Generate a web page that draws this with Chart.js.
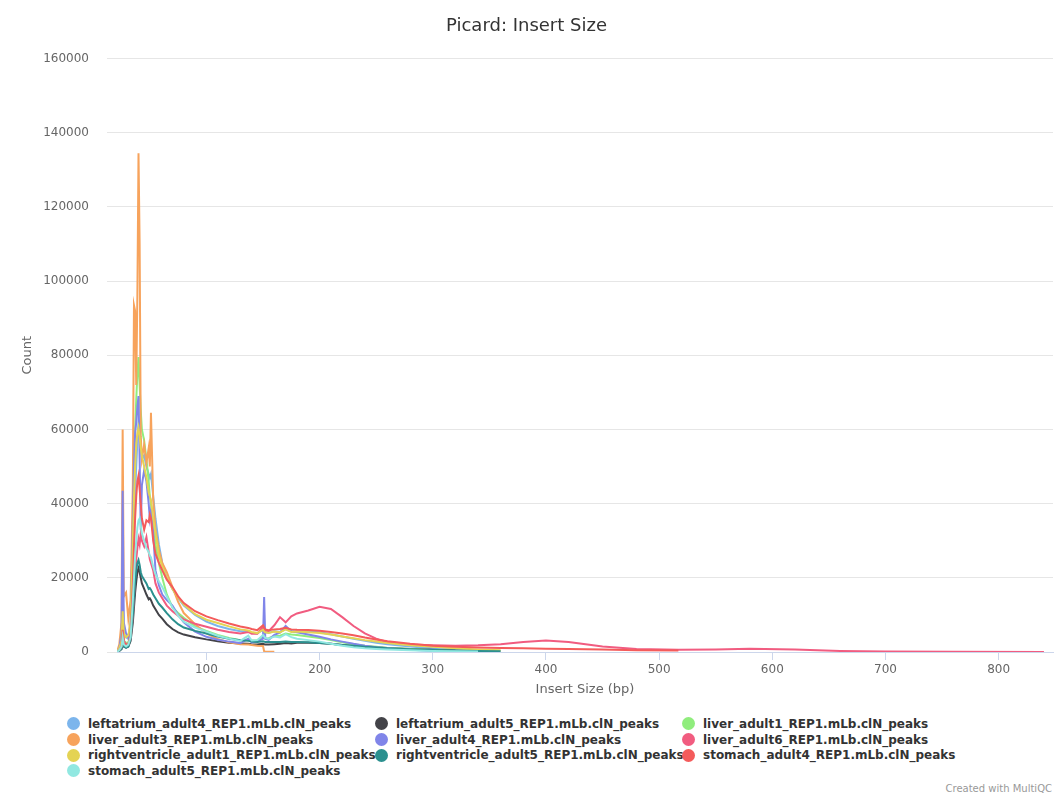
<!DOCTYPE html>
<html>
<head>
<meta charset="utf-8">
<title>Picard: Insert Size</title>
<script src="https://cdn.jsdelivr.net/npm/chart.js@4.4.0/dist/chart.umd.min.js"></script>
<style>
    body { margin: 0; background: #fff; font-family: "DejaVu Sans", sans-serif; }
    #wrap { position: relative; width: 1057px; height: 796px; overflow: hidden; }
    #insertSizeChart { position: absolute; left: 0; top: 0; }
    #legend {
        position: absolute; left: 67px; top: 716px;
        display: grid; grid-template-columns: 308px 307px auto;
    }
    .item { display: flex; align-items: center; height: 15.7px; font: bold 12px "DejaVu Sans", sans-serif; color: #333; white-space: nowrap; }
    .dot { width: 13px; height: 13px; border-radius: 50%; margin-right: 8px; flex: none; }
    #credit { position: absolute; right: 5px; top: 783px; font: 10px "DejaVu Sans", sans-serif; color: #999; }
</style>
</head>
<body>
<div id="wrap">
    <canvas id="insertSizeChart" width="1057" height="700"></canvas>
    <div id="legend"></div>
    <div id="credit">Created with MultiQC</div>
</div>
<script>
// Insert sizes (bp) shared by all samples; each sample stops where its array ends
const insertSize = [21, 23, 25, 26, 27, 29, 31, 33, 35, 36, 37, 38, 39, 40, 41, 42, 43, 45, 47, 49,
    50, 51, 53, 55, 58, 61, 65, 70, 75, 80, 90, 100, 110, 120, 130, 137, 140, 145, 150, 151,
    152, 155, 160, 165, 170, 175, 180, 190, 200, 210, 220, 230, 240, 250, 260, 280, 300, 320, 340, 360,
    380, 400, 420, 450, 480, 517, 550, 580, 620, 660, 700, 760, 840];

const leftatrium4 = [0, 800, 3000, 17000, 5000, 4000, 3500, 6000, 22000, 33000, 42000, 50000, 57000, 62000, 60000, 56000, 52000, 53000, 50000, 48000,
    47000, 48000, 42000, 36000, 29000, 24000, 20000, 17000, 14500, 12500, 10000, 8200, 7000, 6200, 5600, 5600, 5200, 5000, 6000, 5600,
    5300, 5200, 5600, 5400, 6200, 5600, 5500, 5500, 5300, 4800, 4200, 3600, 3000, 2500, 2100, 1500, 1000, 700];
const leftatrium5 = [0, 300, 800, 2500, 1500, 1200, 1500, 3000, 8000, 12000, 16000, 19000, 21500, 22600, 21500, 20000, 18500, 17000, 15500, 14200,
    14500, 14000, 12500, 11500, 10000, 9000, 7500, 6200, 5300, 4700, 4000, 3400, 2900, 2500, 2300, 2200, 2100, 2000, 2200, 2100,
    2000, 2000, 2100, 2200, 2400, 2300, 2500, 2500, 2400, 2200, 1900, 1700, 1500, 1300, 1100, 800, 600, 400, 300];
const liver1 = [0, 500, 1500, 8000, 3000, 2500, 2500, 5000, 25000, 45000, 60000, 68000, 75000, 79500, 72000, 65000, 60000, 57000, 52000, 46000,
    42000, 40000, 34000, 29000, 24000, 20000, 15500, 12000, 10500, 9200, 6900, 5700, 4600, 3800, 3200, 3400, 3100, 3200, 4000, 3800,
    3600, 3700, 4300, 4400, 5000, 4700, 4600, 4200, 3800, 3200, 2600, 2100, 1700, 1400, 1100, 800, 500, 300];
const liver3 = [0, 2000, 8000, 60000, 15000, 16000, 9000, 14000, 45000, 93500, 92000, 72000, 96000, 134500, 110000, 58000, 52000, 56000, 51000, 55000,
    50000, 64500, 41000, 33000, 27500, 24000, 21500, 17500, 13500, 10500, 7500, 5000, 3500, 2600, 2100, 2000, 1900, 1700, 1600, 200,
    80, 60, 40];
const liver4 = [0, 1000, 5000, 43500, 8000, 5000, 4000, 8000, 35000, 50000, 59000, 62000, 66000, 69000, 52000, 33000, 45000, 49000, 46000, 40000,
    36000, 38000, 32000, 22000, 18000, 15500, 14000, 12500, 10000, 8000, 5500, 4100, 3300, 2800, 2400, 3600, 2600, 2800, 3600, 14800,
    3600, 3300, 4600, 5200, 7000, 5600, 5300, 4700, 4100, 3400, 2800, 2200, 1700, 1300, 1000, 600, 350];
const liver6 = [0, 500, 1500, 7000, 3000, 2000, 2000, 3500, 10000, 15000, 20000, 25000, 28000, 30500, 29000, 32000, 30000, 28500, 31000, 27000,
    25000, 24000, 22000, 18500, 16000, 14500, 12500, 11000, 9800, 8800, 7600, 6800, 6000, 5400, 5000, 5400, 4900, 4900, 6800, 6200,
    5800, 5600, 7200, 9400, 8000, 9600, 10400, 11200, 12200, 11600, 9400, 7000, 5000, 3600, 2700, 2000, 1800, 1700, 1800, 2100,
    2700, 3100, 2700, 1500, 800, 600, 700, 850, 650, 300, 150, 60, 20];
const rightventricle1 = [0, 1000, 3000, 11000, 5000, 4000, 4500, 8000, 30000, 42000, 50000, 56000, 59000, 60500, 58000, 55000, 53000, 50000, 47000, 43000,
    42000, 41000, 36000, 32000, 26000, 23000, 20000, 17000, 14800, 12800, 10200, 8700, 7800, 6900, 6100, 5800, 5400, 5100, 6000, 5600,
    5300, 5100, 5500, 5300, 6100, 5400, 5500, 5300, 5100, 4700, 4200, 3700, 3200, 2800, 2400, 1800, 1400, 1000, 700, 500];
const rightventricle5 = [0, 300, 800, 2500, 1500, 1200, 1500, 3500, 10000, 15000, 19000, 22000, 24000, 24800, 23500, 21500, 20500, 19500, 18500, 17000,
    17200, 16800, 15500, 14500, 13000, 12000, 10500, 8800, 7500, 6600, 5700, 5000, 4200, 3600, 3200, 3000, 2800, 2700, 2900, 2800,
    2700, 2700, 2700, 2700, 2800, 2700, 2700, 2600, 2400, 2200, 1900, 1700, 1400, 1200, 1000, 750, 550, 400, 300, 200];
const stomach4 = [0, 500, 1500, 6000, 2500, 2000, 2200, 5000, 18000, 28000, 36000, 42000, 46000, 47500, 44000, 40000, 36000, 33000, 35500, 35000,
    37000, 36000, 30000, 26500, 24000, 22000, 19500, 17500, 15000, 13200, 11000, 9600, 8600, 7700, 6900, 6500, 6200, 5900, 7200, 6600,
    6100, 5900, 6100, 6200, 6500, 6100, 6000, 5900, 5700, 5400, 5000, 4500, 3900, 3400, 2900, 2200, 1700, 1400, 1200, 1100,
    1000, 900, 800, 650, 500, 400];
const stomach5 = [0, 500, 1500, 4000, 2000, 1500, 2000, 4000, 14000, 20000, 26000, 30000, 33500, 35500, 36000, 34000, 32000, 30000, 28000, 27000,
    26000, 25500, 23000, 21000, 19000, 17500, 15000, 12000, 9800, 8200, 6600, 5500, 4400, 3600, 3000, 4400, 3100, 3200, 4600, 4200,
    3800, 3500, 4200, 3900, 4800, 4000, 3600, 3200, 2800, 2200, 1700, 1300, 1000, 800, 650, 450, 300, 200, 150];

const seriesNames = [
    'leftatrium_adult4_REP1.mLb.clN_peaks', 'leftatrium_adult5_REP1.mLb.clN_peaks', 'liver_adult1_REP1.mLb.clN_peaks',
    'liver_adult3_REP1.mLb.clN_peaks', 'liver_adult4_REP1.mLb.clN_peaks', 'liver_adult6_REP1.mLb.clN_peaks',
    'rightventricle_adult1_REP1.mLb.clN_peaks', 'rightventricle_adult5_REP1.mLb.clN_peaks', 'stomach_adult4_REP1.mLb.clN_peaks',
    'stomach_adult5_REP1.mLb.clN_peaks'
];
const seriesCounts = [leftatrium4, leftatrium5, liver1, liver3, liver4, liver6, rightventricle1, rightventricle5, stomach4, stomach5];
const seriesColors = ['#7cb5ec', '#434348', '#90ed7d', '#f7a35c', '#8085e9', '#f15c80', '#e4d354', '#2b908f', '#f45b5b', '#91e8e1'];

const xTicks = [100, 200, 300, 400, 500, 600, 700, 800];
const yTicks = [0, 20000, 40000, 60000, 80000, 100000, 120000, 140000, 160000];

const FONT = '"DejaVu Sans", sans-serif';

const datasets = seriesNames.map((name, i) => ({
    label: name,
    data: seriesCounts[i].map((count, j) => ({ x: insertSize[j], y: count })),
    borderColor: seriesColors[i],
    backgroundColor: seriesColors[i],
    borderWidth: 2,
    pointRadius: 0,
    tension: 0,
    fill: false,
    // later samples are drawn on top, like the original
    order: seriesNames.length - i
}));

const chart = new Chart(document.getElementById('insertSizeChart').getContext('2d'), {
    type: 'line',
    data: { datasets: datasets },
    options: {
        responsive: false,
        animation: false,
        layout: { padding: { left: 0, right: 4, top: 0, bottom: 0 } },
        plugins: {
            legend: { display: false },
            title: {
                display: true,
                text: 'Picard: Insert Size',
                color: '#333',
                font: { family: FONT, size: 18, weight: 'normal' },
                padding: { top: 16, bottom: 21 }
            }
        },
        scales: {
            x: {
                type: 'linear',
                min: 21,
                max: 848,
                afterBuildTicks: scale => { scale.ticks = xTicks.map(v => ({ value: v })); },
                afterFit: scale => { scale.height = 48; },
                ticks: {
                    color: '#666',
                    font: { family: FONT, size: 12 },
                    padding: 3,
                    maxRotation: 0,
                    autoSkip: false,
                    callback: v => String(v)
                },
                grid: { drawOnChartArea: false, drawTicks: true, tickLength: 8, color: '#ccd6eb' },
                border: { color: '#ccd6eb', width: 1 },
                title: {
                    display: true,
                    text: 'Insert Size (bp)',
                    color: '#666',
                    font: { family: FONT, size: 13 },
                    padding: { top: 0, bottom: 3 }
                }
            },
            y: {
                min: 0,
                max: 160000,
                afterBuildTicks: scale => { scale.ticks = yTicks.map(v => ({ value: v })); },
                afterFit: scale => { scale.width = 117; },
                ticks: {
                    color: '#666',
                    font: { family: FONT, size: 12 },
                    padding: 18,
                    callback: v => String(v)
                },
                grid: { color: '#e6e6e6', tickLength: 10 },
                border: { display: false },
                title: {
                    display: true,
                    text: 'Count',
                    color: '#666',
                    font: { family: FONT, size: 13 },
                    padding: { top: 20, bottom: 0 }
                }
            }
        }
    }
});

// legend in three columns, like MultiQC
const legendEl = document.getElementById('legend');
chart.data.datasets.forEach(ds => {
    const item = document.createElement('div');
    item.className = 'item';
    const dot = document.createElement('span');
    dot.className = 'dot';
    dot.style.background = ds.borderColor;
    item.appendChild(dot);
    item.appendChild(document.createTextNode(ds.label));
    legendEl.appendChild(item);
});
</script>
</body>
</html>
